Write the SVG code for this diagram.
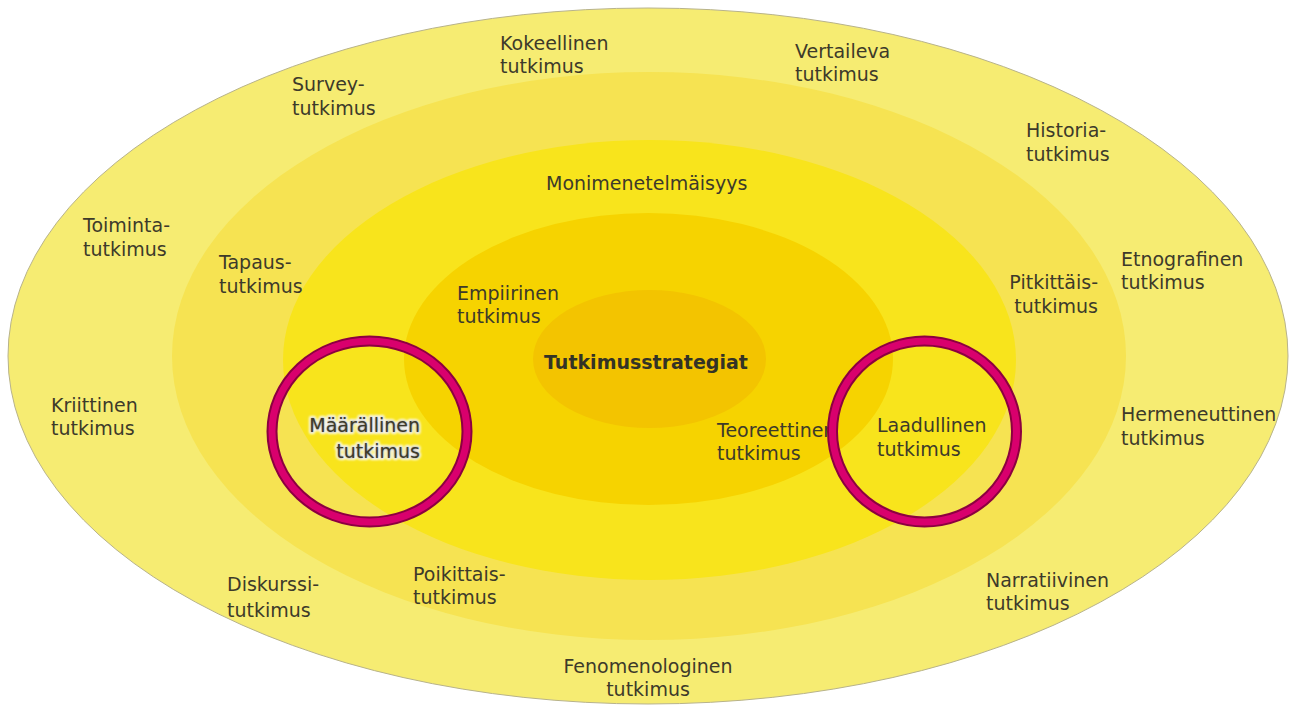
<svg xmlns="http://www.w3.org/2000/svg" width="1292" height="706" viewBox="0 0 1292 706">
<style>
text{font-family:"DejaVu Sans","Verdana",sans-serif;font-size:19px;fill:#3d3a2a}
.b{font-weight:bold;fill:#333326}
.r{text-anchor:end}
.m{text-anchor:middle}
.ring1{fill:none;stroke:#8c0040;stroke-width:11}
.ring2{fill:none;stroke:#d9006d;stroke-width:7}
.glow{stroke:#ffffff;stroke-width:4;stroke-linejoin:round;paint-order:stroke;filter:url(#blur)}
</style>
<defs>
<filter id="blur" x="-10%" y="-30%" width="120%" height="160%"><feGaussianBlur stdDeviation="0.8"/></filter>
</defs>
<rect width="1292" height="706" fill="#ffffff"/>
<g id="layers">
<ellipse id="layer1" cx="648" cy="356" rx="640" ry="348" fill="#f6ec72" stroke="#b8b38a" stroke-width="1"/>
<ellipse id="layer2" cx="649" cy="356" rx="477" ry="284" fill="#f6e352"/>
<ellipse id="layer3" cx="649.5" cy="360" rx="366.5" ry="220" fill="#f8e41c"/>
<ellipse id="layer4" cx="648.5" cy="359" rx="244.5" ry="146" fill="#f6d300"/>
<ellipse id="layer5" cx="649.5" cy="359" rx="116.5" ry="69" fill="#f3c400"/>
</g>
<g id="labels">
<g id="n-center"><text class="b" x="544" y="369">Tutkimusstrategiat</text></g>
<g id="n-kokeellinen"><text x="500" y="50">Kokeellinen</text><text x="500" y="73">tutkimus</text></g>
<g id="n-vertaileva"><text x="795" y="58">Vertaileva</text><text x="795" y="81">tutkimus</text></g>
<g id="n-survey"><text x="292" y="91">Survey-</text><text x="292" y="115">tutkimus</text></g>
<g id="n-historia"><text x="1026" y="137">Historia-</text><text x="1026" y="161">tutkimus</text></g>
<g id="n-monimenetelmaisyys"><text x="546" y="190">Monimenetelmäisyys</text></g>
<g id="n-toiminta"><text x="83" y="232">Toiminta-</text><text x="83" y="256">tutkimus</text></g>
<g id="n-etnografinen"><text x="1121" y="266">Etnografinen</text><text x="1121" y="289">tutkimus</text></g>
<g id="n-tapaus"><text x="219" y="269">Tapaus-</text><text x="219" y="293">tutkimus</text></g>
<g id="n-pitkittais"><text class="r" x="1098" y="289">Pitkittäis-</text><text class="r" x="1098" y="313">tutkimus</text></g>
<g id="n-empiirinen"><text x="457" y="300">Empiirinen</text><text x="457" y="323">tutkimus</text></g>
<g id="n-kriittinen"><text x="51" y="412">Kriittinen</text><text x="51" y="435">tutkimus</text></g>
<g id="n-hermeneuttinen"><text x="1121" y="421">Hermeneuttinen</text><text x="1121" y="445">tutkimus</text></g>
<g id="n-teoreettinen"><text x="717" y="437">Teoreettinen</text><text x="717" y="460">tutkimus</text></g>
<g id="n-diskurssi"><text x="227" y="591">Diskurssi-</text><text x="227" y="617">tutkimus</text></g>
<g id="n-poikittais"><text x="413" y="581">Poikittais-</text><text x="413" y="604">tutkimus</text></g>
<g id="n-narratiivinen"><text x="986" y="587">Narratiivinen</text><text x="986" y="610">tutkimus</text></g>
<g id="n-fenomenologinen"><text class="m" x="648" y="673">Fenomenologinen</text><text class="m" x="648" y="696">tutkimus</text></g>
</g>
<g id="n-maarallinen">
<ellipse class="ring1" cx="369.5" cy="431.5" rx="97.5" ry="90.5"/>
<ellipse class="ring2" cx="369.5" cy="431.5" rx="97.5" ry="90.5"/>
<text class="r glow" x="420" y="432">Määrällinen</text>
<text class="r glow" x="420" y="458">tutkimus</text>
<text class="r" x="420" y="432">Määrällinen</text>
<text class="r" x="420" y="458">tutkimus</text>
</g>
<g id="n-laadullinen">
<ellipse class="ring1" cx="924.5" cy="431.5" rx="92" ry="90.5"/>
<ellipse class="ring2" cx="924.5" cy="431.5" rx="92" ry="90.5"/>
<text x="877" y="432">Laadullinen</text>
<text x="877" y="456">tutkimus</text>
</g>
</svg>
